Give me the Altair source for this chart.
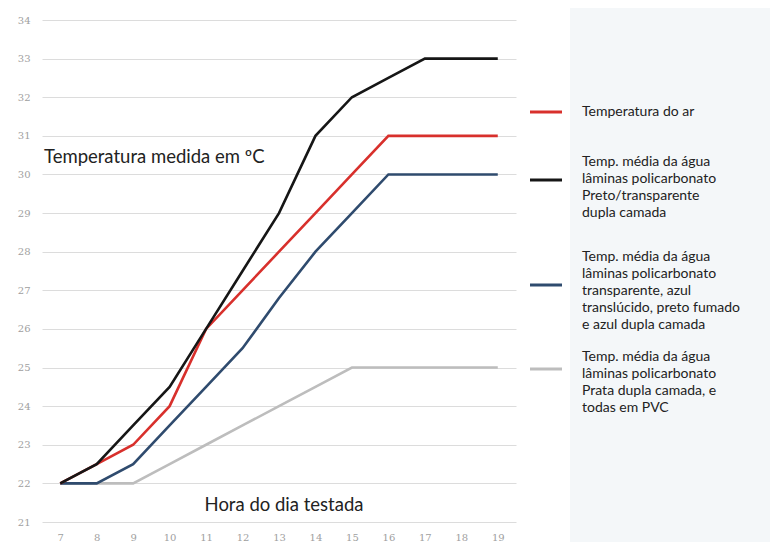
import altair as alt
import pandas as pd

hours = [7, 8, 9, 10, 11, 12, 13, 14, 15, 16, 17, 18, 19]
y_ticks = [21, 22, 23, 24, 25, 26, 27, 28, 29, 30, 31, 32, 33, 34]

temp_ar = [22, 22.5, 23, 24, 26, 27, 28, 29, 30, 31, 31, 31, 31]
preto_transp = [22, 22.5, 23.5, 24.5, 26, 27.5, 29, 31, 32, 32.5, 33, 33, 33]
transp_azul = [22, 22, 22.5, 23.5, 24.5, 25.5, 26.8, 28, 29, 30, 30, 30, 30]
prata_pvc = [22, 22, 22, 22.5, 23, 23.5, 24, 24.5, 25, 25, 25, 25, 25]

series_names = ["prata", "azul", "ar", "preto"]
series_values = [prata_pvc, transp_azul, temp_ar, preto_transp]
series_colors = ["#bdbdbd", "#2f4b6e", "#d8302c", "#161616"]

legend_texts = [
    ["Temperatura do ar"],
    ["Temp. média da água", "lâminas policarbonato", "Preto/transparente", "dupla camada"],
    ["Temp. média da água", "lâminas policarbonato", "transparente, azul",
     "translúcido, preto fumado", "e azul dupla camada"],
    ["Temp. média da água", "lâminas policarbonato", "Prata dupla camada, e", "todas em PVC"],
]
legend_colors = ["#d8302c", "#161616", "#2f4b6e", "#bdbdbd"]

y_title = "Temperatura medida em ºC"
x_title = "Hora do dia testada"

W, H = 474, 502
PAD_L, PAD_T = 34, 12
SVG_W, SVG_H = 762, 534

FONT = "Lato"
LEG_FONT = "Lato"

x_scale = alt.Scale(domain=[6.5, 19.5], nice=False, zero=False)
y_scale = alt.Scale(domain=[21, 34], nice=False, zero=False)

x_axis = alt.Axis(values=hours, grid=False, domain=False, ticks=False,
                  labelColor="#a0a0a0", labelFontSize=10, labelFont="DejaVu Serif",
                  labelPadding=10, title=None, format="d", labelOverlap=False)
y_axis = alt.Axis(values=y_ticks, grid=True, gridColor="#dcdcdc",
                  gridWidth=1, domain=False, ticks=False,
                  labelColor="#a0a0a0", labelFontSize=10, labelFont="DejaVu Serif",
                  labelPadding=12, title=None, format="d", labelOverlap=False)

# background panel on the right
bg = alt.Chart(pd.DataFrame({"a": [0]})).mark_rect(color="#f4f7f9").encode(
    x=alt.value(528), x2=alt.value(SVG_W - PAD_L),
    y=alt.value(-PAD_T), y2=alt.value(SVG_H - PAD_T),
)

layers = [bg]
for name, vals, col in zip(series_names, series_values, series_colors):
    df = pd.DataFrame({"h": hours, "v": vals})
    layers.append(
        alt.Chart(df).mark_line(color=col, strokeWidth=2.6, strokeJoin="miter").encode(
            x=alt.X("h:Q", scale=x_scale, axis=x_axis),
            y=alt.Y("v:Q", scale=y_scale, axis=y_axis),
        )
    )

# annotations
layers.append(alt.Chart(pd.DataFrame({"t": [y_title]})).mark_text(
    align="left", baseline="middle", font=FONT, fontSize=18.5, color="#222222"
).encode(text="t:N", x=alt.value(2), y=alt.value(137)))
layers.append(alt.Chart(pd.DataFrame({"t": [x_title]})).mark_text(
    align="center", baseline="middle", font=FONT, fontSize=18.5, color="#222222"
).encode(text="t:N", x=alt.value(242), y=alt.value(485)))

# custom legend
leg_first_line = [92, 142, 237, 337]
leg_sample = [92, 160, 265, 349]
for lines, col, ty, sy in zip(legend_texts, legend_colors, leg_first_line, leg_sample):
    layers.append(alt.Chart(pd.DataFrame({"a": [0]})).mark_rule(color=col, strokeWidth=3).encode(
        x=alt.value(488), x2=alt.value(520), y=alt.value(sy)))
    layers.append(alt.Chart(pd.DataFrame({"a": [0]})).mark_text(
        align="left", baseline="middle", font=LEG_FONT, fontSize=14, color="#222222",
        lineHeight=17, text=lines
    ).encode(x=alt.value(540), y=alt.value(ty)))

chart = alt.layer(*layers).properties(
    width=W, height=H,
    autosize=alt.AutoSizeParams(type="none"),
    padding={"left": PAD_L, "top": PAD_T, "right": SVG_W - PAD_L - W, "bottom": SVG_H - PAD_T - H},
).configure_view(stroke=None)

chart.save("out.html", embed_options={"renderer": "svg", "actions": False})
